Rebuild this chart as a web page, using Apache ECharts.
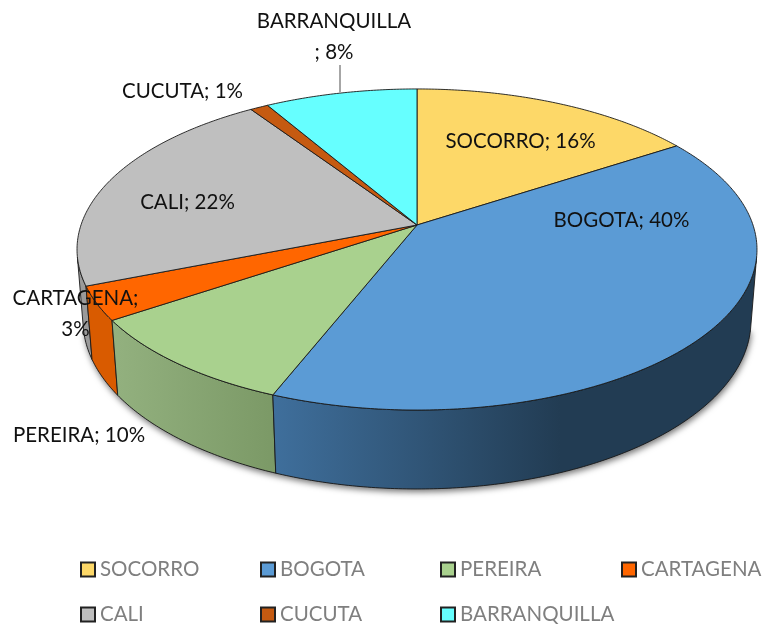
<!DOCTYPE html>
<html>
<head>
<meta charset="utf-8">
<style>html,body{margin:0;padding:0;background:#fff}#c{width:764px;height:626px}</style>
<script src="https://cdn.jsdelivr.net/npm/echarts@6/dist/echarts.min.js"></script>
</head>
<body>
<div id="c"></div>
<script>
const categories = ['SOCORRO','BOGOTA','PEREIRA','CARTAGENA','CALI','CUCUTA','BARRANQUILLA'];
const shares = [15.8,40.2,9.6,3.4,21.6,1.0,8.4];
const colors = ['#fdd868','#5b9bd5','#a9d18e','#ff6600','#bfbfbf','#c55a11','#66ffff'];
const wallShades = [['#b89a40','#b89a40'],['#3f6f9c','#223c53'],['#93b17f','#7b9966'],['#d95b00','#d95b00'],['#9c9c9c','#8a8a8a'],['#8f4310','#8f4310'],['#4db5b5','#4db5b5']];
const wallShadeSpan = [[0,764],[273,560],[112,276],[0,764],[0,764],[0,764],[0,764]];

// Projection of the pie disc (perspective view of a tilted circle)
const CX=417, CY=225, A=156.8, B=336, K=0.1526, DROP=71.5, SHRINK=0.0175;
function pt(theta, lower){
  const sx=Math.sin(theta), z=-Math.cos(theta);
  const w=1-K*z+(lower?SHRINK:0);
  return [CX+B*sx/w, CY+(A*z+(lower?DROP:0))/w];
}
function arc(a0,a1,lower){
  const n=Math.max(2,Math.ceil((a1-a0)/0.01)),out=[];
  for(let i=0;i<=n;i++) out.push(pt(a0+(a1-a0)*i/n,lower));
  return out;
}
const total=shares.reduce((s,v)=>s+v,0);
const edges=[0];
shares.forEach(v=>edges.push(edges[edges.length-1]+v/total*2*Math.PI));

// Only the front of the rim shows: the wall runs between the two silhouette angles
const FRONT_FROM=Math.acos(-0.2), FRONT_TO=2*Math.PI-FRONT_FROM;

const OUTLINE='rgba(25,25,25,0.9)';
function topFace(i){
  return function(){
    return {type:'polygon',shape:{points:[[CX,CY]].concat(arc(edges[i],edges[i+1],false))},
      style:{fill:colors[i],stroke:OUTLINE,lineWidth:1,lineJoin:'round'}};
  };
}
function wall(i){
  return function(){
    const a0=Math.max(edges[i],FRONT_FROM), a1=Math.min(edges[i+1],FRONT_TO);
    if(a1<=a0) return null;
    const up=arc(a0,a1,false), lo=arc(a0,a1,true).reverse();
    const span=wallShadeSpan[i], sh=wallShades[i];
    return {type:'polygon',shape:{points:up.concat(lo)},
      style:{fill:{type:'linear',x:span[0],y:0,x2:span[1],y2:0,global:true,
        colorStops:[{offset:0,color:sh[0]},{offset:1,color:sh[1]}]},
        stroke:OUTLINE,lineWidth:1,lineJoin:'round'}};
  };
}
function footShadow(){
  return {type:'polygon',shape:{points:arc(FRONT_FROM,FRONT_TO,true)},
    style:{fill:'#555',shadowColor:'rgba(0,0,0,0.55)',shadowBlur:6,shadowOffsetX:1,shadowOffsetY:3}};
}

const series=[{type:'custom',name:'shadow',coordinateSystem:'none',silent:true,z:1,data:[1],renderItem:footShadow}];
[4,3,2,1].forEach(i=>series.push({type:'custom',name:'wall '+categories[i],coordinateSystem:'none',silent:true,z:2,data:[shares[i]],renderItem:wall(i)}));
categories.forEach((c,i)=>series.push({type:'custom',name:c,coordinateSystem:'none',silent:true,z:3,
  itemStyle:{color:colors[i]},data:[shares[i]],renderItem:topFace(i)}));

const legendCols=[80,260,440,621], legendRows=[559,604];
const legends=categories.map((c,i)=>({
  data:[c],left:legendCols[i%4],top:legendRows[Math.floor(i/4)],orient:'horizontal',padding:0,
  itemWidth:14,itemHeight:14,itemGap:0,selectedMode:false,icon:'rect',
  itemStyle:{borderColor:'#222',borderWidth:2},
  textStyle:{fontFamily:'Lato',fontSize:20.5,color:'#7f7f7f'}
}));

// [text centre x, text centre y, separator used to break the label]
const labelPlaces=[[520.5,141,'; '],[621.5,220,'; '],[79,435,'; '],[75.5,313.5,';\n'],[187.5,202,'; '],[182.5,91,'; '],[334,37,'\n; ']];
const labels=categories.map((c,i)=>({
  type:'text',z:100,x:labelPlaces[i][0],y:labelPlaces[i][1],silent:true,
  style:{text:c+labelPlaces[i][2]+Math.round(shares[i])+'%',fontFamily:'Lato',fontSize:20.5,fill:'#111',
    align:'center',verticalAlign:'middle',lineHeight:31}
}));
labels.push({type:'line',z:99,silent:true,shape:{x1:340,y1:65,x2:340,y2:93},style:{stroke:'#a6a6a6',lineWidth:2}});

const chart=echarts.init(document.getElementById('c'),null,{renderer:'canvas'});
chart.setOption({animation:false,backgroundColor:'#fff',legend:legends,series:series,graphic:{elements:labels}});
</script>
</body>
</html>
